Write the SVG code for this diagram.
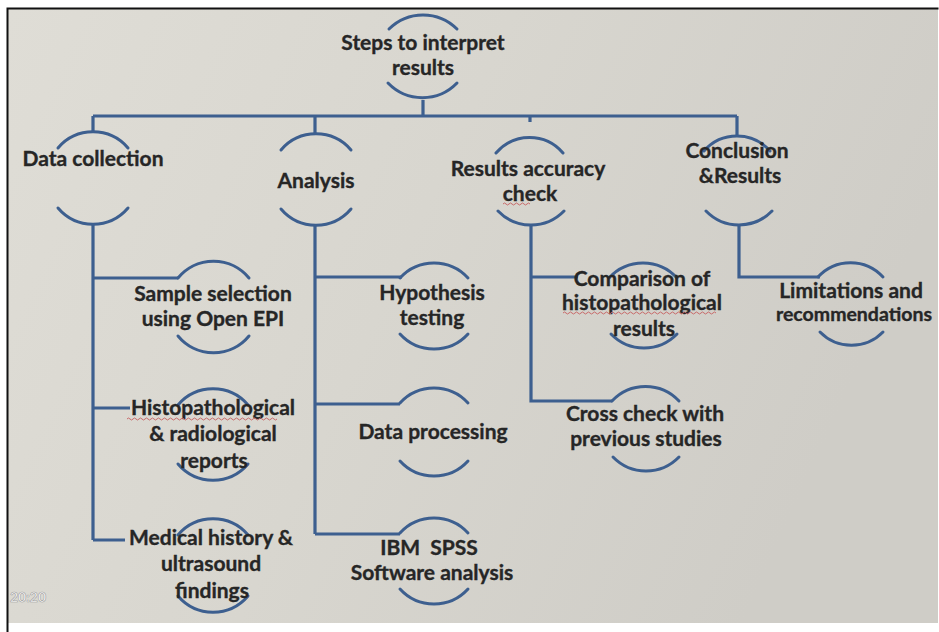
<svg xmlns="http://www.w3.org/2000/svg" width="939" height="632" viewBox="0 0 939 632">
<defs>
<linearGradient id="bg" x1="0" y1="0" x2="1" y2="0.3">
<stop offset="0" stop-color="#dfddd6"/>
<stop offset="0.5" stop-color="#d8d6cf"/>
<stop offset="1" stop-color="#cfcdc7"/>
</linearGradient>
<style>
.arc{fill:none;stroke:#3d5f8f;stroke-width:3;stroke-linecap:round}
.ln{fill:none;stroke:#3d5f8f;stroke-width:3.2}
text{font-family:Lato,"Open Sans","Liberation Sans",sans-serif;font-weight:bold;font-size:21px;fill:#262626;stroke:#262626;stroke-width:0.35;text-anchor:middle}
.sq{fill:none;stroke:#c86a6a;stroke-width:1}
</style>
</defs>
<rect width="939" height="632" fill="#ffffff"/>
<rect x="8" y="9" width="930" height="614" fill="url(#bg)"/>
<path d="M7.5 640 V8.5 H938.5" fill="none" stroke="#111" stroke-width="2"/>
<text x="28" y="602" style="fill:#ffffff;stroke:#9a9a9a;stroke-width:0.6;font-size:14px">20:20</text>

<g id="connectors">
<path class="ln" d="M423 100 V116 M93 116 H737 M93 116 V132 M315 116 V134 M530 116 V122 M737 116 V137"/>
<path class="ln" d="M93 224 V540 M93 278 H178 M93 408 H130 M93 540 H125"/>
<path class="ln" d="M315 224 V534 M315 277 H402 M315 404 H400 M315 534 H400"/>
<path class="ln" d="M531 226 V401 H612 M531 277 H578"/>
<path class="ln" d="M739 226 V277 H820"/>
</g>

<g id="n-steps">
<path class="arc" d="M389 29 A48 48 0 0 1 457 29"/>
<path class="arc" d="M388 83 A48 48 0 0 0 457 83"/>
<text x="423" y="50">Steps to interpret</text>
<text x="423" y="75">results</text>
</g>

<g id="n-data">
<path class="arc" d="M58 148 A46 46 0 0 1 128 148"/>
<path class="arc" d="M58 208 A46 46 0 0 0 128 208"/>
<text x="93" y="166">Data collection</text>
</g>

<g id="n-analysis">
<path class="arc" d="M281 150 A46 46 0 0 1 351 150"/>
<path class="arc" d="M281 209 A46 46 0 0 0 351 209"/>
<text x="316" y="188">Analysis</text>
</g>

<g id="n-accuracy">
<path class="arc" d="M496 153 A44 44 0 0 1 563 153"/>
<path class="arc" d="M498 211 A46 46 0 0 0 564 211"/>
<text x="528" y="176">Results accuracy</text>
<text x="530" y="201">check</text>
<path class="sq" d="M503 204 q1.5 -2 3 0 t3 0 t3 0 t3 0 t3 0 t3 0 t3 0 t3 0 t3 0"/>
</g>

<g id="n-conclusion">
<path class="arc" d="M704 151 A44 44 0 0 1 770 151"/>
<path class="arc" d="M706 211 A46 46 0 0 0 772 211"/>
<text x="737" y="158">Conclusion</text>
<text x="740" y="183">&amp;Results</text>
</g>

<g id="n-sample">
<path class="arc" d="M178 278 A46 46 0 0 1 249 278"/>
<path class="arc" d="M178 336 A46 46 0 0 0 249 336"/>
<text x="213" y="301">Sample selection</text>
<text x="213" y="326">using Open EPI</text>
</g>

<g id="n-histo">
<path class="arc" d="M178 405 A46 46 0 0 1 248 405"/>
<path class="arc" d="M178 464 A46 46 0 0 0 248 464"/>
<text x="213" y="415">Histopathological</text>
<text x="213" y="441">&amp; radiological</text>
<text x="214" y="468">reports</text>
<path class="sq" d="M127 419 q1.5 -2 3 0 t3 0 t3 0 t3 0 t3 0 t3 0 t3 0 t3 0 t3 0 t3 0 t3 0 t3 0 t3 0 t3 0 t3 0 t3 0 t3 0 t3 0 t3 0 t3 0 t3 0 t3 0 t3 0 t3 0 t3 0 t3 0 t3 0 t3 0 t3 0 t3 0 t3 0 t3 0 t3 0 t3 0 t3 0 t3 0 t3 0 t3 0 t3 0 t3 0 t3 0 t3 0 t3 0 t3 0 t3 0 t3 0 t3 0 t3 0 t3 0 t3 0"/>
</g>

<g id="n-medical">
<path class="arc" d="M178 535 A46 46 0 0 1 248 535"/>
<path class="arc" d="M178 596 A46 46 0 0 0 248 596"/>
<text x="211" y="545">Medical history &amp;</text>
<text x="211" y="571">ultrasound</text>
<text x="212" y="598">findings</text>
</g>

<g id="n-hypo">
<path class="arc" d="M400 278 A46 46 0 0 1 468 278"/>
<path class="arc" d="M400 334 A46 46 0 0 0 468 334"/>
<text x="432" y="300">Hypothesis</text>
<text x="432" y="325">testing</text>
</g>

<g id="n-proc">
<path class="arc" d="M400 403 A46 46 0 0 1 468 403"/>
<path class="arc" d="M400 461 A46 46 0 0 0 468 461"/>
<text x="433" y="439">Data processing</text>
</g>

<g id="n-spss">
<path class="arc" d="M400 533 A46 46 0 0 1 468 533"/>
<path class="arc" d="M400 589 A46 46 0 0 0 468 589"/>
<text x="429" y="555">IBM&#160; SPSS</text>
<text x="432" y="580">Software analysis</text>
</g>

<g id="n-compare">
<path class="arc" d="M609 278 A46 46 0 0 1 677 278"/>
<path class="arc" d="M611 334 A46 46 0 0 0 677 334"/>
<text x="642" y="286">Comparison of</text>
<text x="642" y="310">histopathological</text>
<text x="644" y="336">results</text>
<path class="sq" d="M563 313 q1.5 -2 3 0 t3 0 t3 0 t3 0 t3 0 t3 0 t3 0 t3 0 t3 0 t3 0 t3 0 t3 0 t3 0 t3 0 t3 0 t3 0 t3 0 t3 0 t3 0 t3 0 t3 0 t3 0 t3 0 t3 0 t3 0 t3 0 t3 0 t3 0 t3 0 t3 0 t3 0 t3 0 t3 0 t3 0 t3 0 t3 0 t3 0 t3 0 t3 0 t3 0 t3 0 t3 0 t3 0 t3 0 t3 0 t3 0 t3 0 t3 0 t3 0 t3 0 t3 0"/>
</g>

<g id="n-cross">
<path class="arc" d="M612 401 A46 46 0 0 1 679 401"/>
<path class="arc" d="M613 457 A46 46 0 0 0 679 457"/>
<text x="645" y="421">Cross check with</text>
<text x="646" y="446">previous studies</text>
</g>

<g id="n-limit">
<path class="arc" d="M818 277 A44 44 0 0 1 883 277"/>
<path class="arc" d="M820 332 A44 44 0 0 0 883 332"/>
<text x="851" y="298">Limitations and</text>
<text x="854" y="321" style="font-size:19.5px">recommendations</text>
</g>
</svg>
